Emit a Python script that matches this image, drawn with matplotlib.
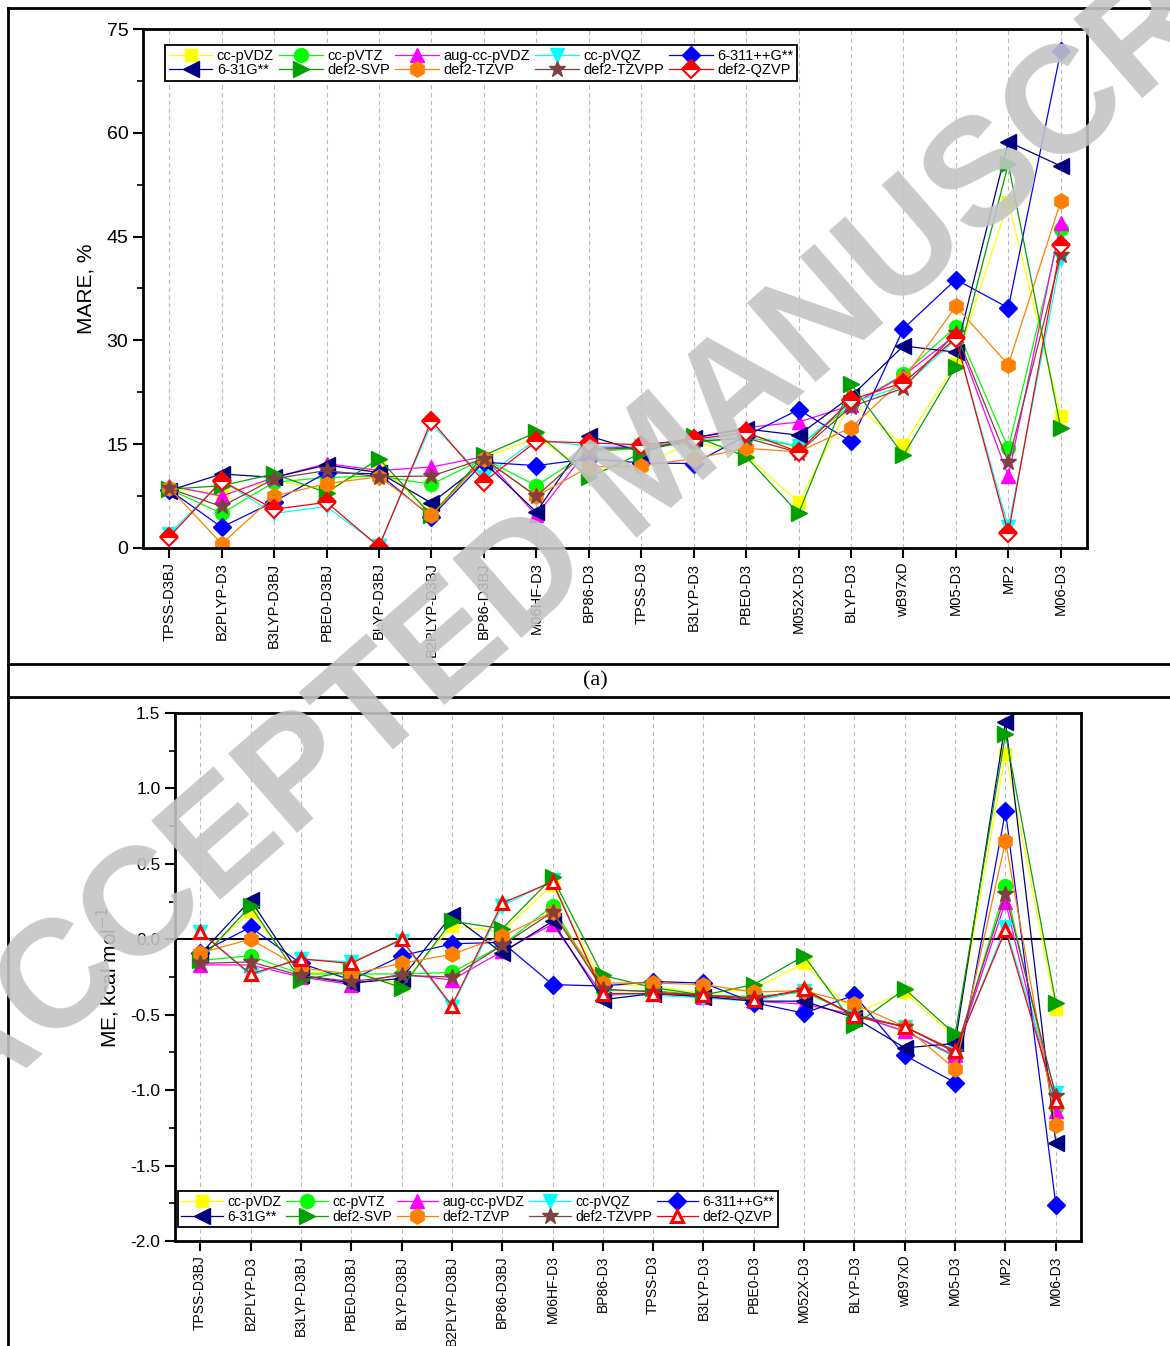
import matplotlib.pyplot as plt
from matplotlib.lines import Line2D

plt.rcParams['font.family'] = ['Liberation Sans', 'DejaVu Sans']

# Functionals (x axis)
functionals = ['TPSS-D3BJ', 'B2PLYP-D3', 'B3LYP-D3BJ', 'PBE0-D3BJ', 'BLYP-D3BJ', 'B2PLYP-D3BJ',
               'BP86-D3BJ', 'M06HF-D3', 'BP86-D3', 'TPSS-D3', 'B3LYP-D3', 'PBE0-D3',
               'M052X-D3', 'BLYP-D3', 'wB97xD', 'M05-D3', 'MP2', 'M06-D3']

basis_sets = ['cc-pVDZ', 'cc-pVTZ', 'aug-cc-pVDZ', 'cc-pVQZ', '6-311++G**',
              '6-31G**', 'def2-SVP', 'def2-TZVP', 'def2-TZVPP', 'def2-QZVP']

# (a) MARE, %
mare_ccpvdz = [8.5, 8.0, 9.7, 8.5, 12.0, 5.0, 13.0, 15.9, 11.2, 11.9, 15.4, 13.4, 6.6, 21.1, 14.9, 26.7, 50.0, 19.1]
mare_ccpvtz = [8.5, 5.0, 9.5, 10.2, 10.4, 9.2, 12.9, 9.0, 13.9, 14.4, 15.2, 16.0, 14.7, 20.6, 25.1, 32.0, 14.4, 46.1]
mare_augdz = [9.0, 7.5, 10.2, 12.2, 11.2, 11.7, 13.2, 4.7, 14.4, 14.6, 15.9, 17.4, 18.2, 20.6, 24.9, 30.8, 10.4, 47.0]
mare_ccpvqz = [2.0, 9.7, 5.0, 6.0, 0.3, 17.9, 10.2, 15.7, 14.7, 14.7, 15.5, 16.4, 14.7, 21.0, 23.4, 30.1, 3.0, 41.8]
mare_6311 = [8.4, 3.0, 6.7, 10.9, 10.7, 4.5, 12.4, 11.9, 12.9, 12.3, 12.2, 16.2, 20.0, 15.4, 31.7, 38.8, 34.7, 71.8]
mare_631 = [8.3, 10.7, 10.2, 12.0, 10.9, 6.5, 12.4, 5.2, 16.2, 13.9, 15.9, 17.2, 16.3, 21.9, 29.2, 28.3, 58.7, 55.2]
mare_svp = [8.5, 9.0, 10.7, 8.0, 12.9, 4.7, 13.4, 16.7, 10.2, 13.7, 16.2, 13.2, 5.0, 23.7, 13.4, 26.2, 55.5, 17.3]
mare_tzvp = [8.7, 0.6, 7.5, 9.3, 10.3, 4.7, 12.9, 7.5, 11.7, 11.9, 12.9, 14.4, 13.9, 17.4, 24.4, 34.9, 26.5, 50.1]
mare_tzvpp = [8.6, 6.0, 10.0, 11.2, 10.3, 10.4, 12.9, 7.5, 14.2, 14.5, 15.4, 15.9, 13.8, 20.4, 23.1, 31.1, 12.4, 42.3]
mare_qzvp = [1.6, 9.7, 5.6, 6.6, 0.2, 18.4, 9.6, 15.4, 15.2, 14.9, 15.7, 16.7, 13.9, 21.4, 23.9, 30.3, 2.1, 43.8]

# (b) ME, kcal/mol
me_ccpvdz = [-0.11, 0.18, -0.22, -0.22, -0.30, 0.09, 0.05, 0.36, -0.30, -0.31, -0.36, -0.33, -0.16, -0.49, -0.35, -0.65, 1.23, -0.46]
me_ccpvtz = [-0.14, -0.11, -0.23, -0.23, -0.23, -0.22, -0.04, 0.22, -0.34, -0.34, -0.37, -0.38, -0.35, -0.50, -0.61, -0.78, 0.35, -1.11]
me_augdz = [-0.17, -0.17, -0.25, -0.30, -0.23, -0.27, -0.08, 0.10, -0.37, -0.36, -0.38, -0.41, -0.43, -0.50, -0.61, -0.77, 0.25, -1.14]
me_ccpvqz = [0.05, -0.24, -0.13, -0.15, -0.01, -0.45, 0.22, 0.39, -0.36, -0.37, -0.39, -0.41, -0.34, -0.50, -0.58, -0.74, 0.08, -1.02]
me_6311 = [-0.09, 0.08, -0.16, -0.27, -0.11, -0.03, -0.02, -0.30, -0.31, -0.28, -0.29, -0.42, -0.49, -0.37, -0.77, -0.95, 0.85, -1.76]
me_631 = [-0.10, 0.26, -0.24, -0.29, -0.26, 0.16, -0.09, 0.12, -0.40, -0.36, -0.38, -0.41, -0.41, -0.52, -0.72, -0.69, 1.44, -1.35]
me_svp = [-0.14, 0.22, -0.27, -0.21, -0.32, 0.12, 0.07, 0.41, -0.24, -0.32, -0.37, -0.30, -0.11, -0.57, -0.33, -0.63, 1.36, -0.42]
me_tzvp = [-0.09, 0.00, -0.19, -0.23, -0.16, -0.10, 0.02, 0.18, -0.29, -0.29, -0.30, -0.35, -0.34, -0.43, -0.58, -0.86, 0.65, -1.23]
me_tzvpp = [-0.16, -0.15, -0.24, -0.28, -0.24, -0.25, -0.04, 0.18, -0.33, -0.35, -0.37, -0.39, -0.34, -0.50, -0.58, -0.75, 0.30, -1.04]
me_qzvp = [0.05, -0.23, -0.13, -0.16, 0.00, -0.44, 0.24, 0.38, -0.36, -0.36, -0.37, -0.40, -0.33, -0.51, -0.58, -0.74, 0.06, -1.07]

mare_data = [mare_ccpvdz, mare_ccpvtz, mare_augdz, mare_ccpvqz, mare_6311,
             mare_631, mare_svp, mare_tzvp, mare_tzvpp, mare_qzvp]
me_data = [me_ccpvdz, me_ccpvtz, me_augdz, me_ccpvqz, me_6311,
           me_631, me_svp, me_tzvp, me_tzvpp, me_qzvp]

colors = ['#FFFF00', '#00FF00', '#FF00FF', '#00FFFF', '#0000FF',
          '#000080', '#00A000', '#FF8000', '#804040', '#FF0000']
markers = ['s', 'o', '^', 'v', 'D', '<', '>', 'h', '*', 'D']
sizes = [9, 10, 10, 10, 9, 11, 11, 11, 12, 9]

x = list(range(len(functionals)))
W, H = 1170, 1346
fig = plt.figure(figsize=(W / 100, H / 100), dpi=100)


def setup_axes(ax, xfs):
    ax.set_xlim(-0.5, len(functionals) - 0.5)
    ax.set_xticks(x)
    ax.set_xticklabels(functionals, rotation=90, fontsize=xfs)
    for xi in x:
        ax.axvline(xi, color='#bbbbbb', lw=0.8, ls=(0, (4, 3)), zorder=0)
    for s in ax.spines.values():
        s.set_linewidth(2)
    ax.tick_params(axis='both', which='major', direction='out', length=7, width=1.5)
    ax.tick_params(axis='y', which='minor', direction='out', length=4, width=1.2)


def ordered_legend(ax, handles, fs, **kw):
    # 5 columns, filled row by row like the original
    order = [0, 5, 1, 6, 2, 7, 3, 8, 4, 9]
    lg = ax.legend([handles[i] for i in order], [basis_sets[i] for i in order],
                   ncol=5, fontsize=fs, handlelength=3.0, handletextpad=0.3,
                   columnspacing=0.35, labelspacing=0.05, borderpad=0.25,
                   borderaxespad=0, fancybox=False, framealpha=1,
                   bbox_transform=fig.transFigure, **kw)
    lg.get_frame().set_edgecolor('black')
    lg.get_frame().set_linewidth(1.3)


# ---- panel (a) ----
ax1 = fig.add_axes([143 / W, 1 - 548 / H, 944 / W, 519 / H])
setup_axes(ax1, 10.5)
h1 = []
for i in range(len(basis_sets)):
    if i == 9:
        kw = dict(mfc='red', mfcalt='white', fillstyle='top', mec='red', mew=1.5)
    else:
        kw = dict(mfc=colors[i], mec=colors[i])
    line, = ax1.plot(x, mare_data[i], color=colors[i], lw=0.9, marker=markers[i],
                     ms=sizes[i], **kw)
    h1.append(line)
ax1.set_ylim(0, 75)
ax1.set_yticks([0, 15, 30, 45, 60, 75])
ax1.set_yticks([7.5, 22.5, 37.5, 52.5, 67.5], minor=True)
ax1.tick_params(axis='y', labelsize=14)
ax1.set_ylabel('MARE, %', fontsize=15, labelpad=8)
ordered_legend(ax1, h1, 10.5, loc='upper left', bbox_to_anchor=(165 / W, 1 - 45 / H))

# ---- panel (b) ----
ax2 = fig.add_axes([175 / W, 1 - 1241 / H, 906 / W, 528 / H])
setup_axes(ax2, 10)
ax2.axhline(0, color='black', lw=1.5, zorder=1)
h2 = []
for i in range(len(basis_sets)):
    mk = markers[i]
    if i == 9:
        mk = '^'
        kw = dict(mfc='white', mec='red', mew=2.2)
    else:
        kw = dict(mfc=colors[i], mec=colors[i])
    line, = ax2.plot(x, me_data[i], color=colors[i], lw=0.9, marker=mk,
                     ms=sizes[i], **kw)
    h2.append(line)
ax2.set_ylim(-2.0, 1.5)
ax2.set_yticks([-2.0, -1.5, -1.0, -0.5, 0.0, 0.5, 1.0, 1.5])
ax2.set_yticks([-1.75, -1.25, -0.75, -0.25, 0.25, 0.75, 1.25], minor=True)
ax2.set_yticklabels(['-2.0', '-1.5', '-1.0', '-0.5', '0.0', '0.5', '1.0', '1.5'])
ax2.tick_params(axis='y', labelsize=12.5)
ax2.set_ylabel('ME, kcal mol$^{-1}$', fontsize=15, labelpad=6)
ordered_legend(ax2, h2, 10, loc='lower left', bbox_to_anchor=(178 / W, 1 - 1227 / H))

# table-like frame around the figure
frame_kw = dict(color='black', lw=2, transform=fig.transFigure)
fig.add_artist(Line2D([8 / W, 1], [1 - 8 / H, 1 - 8 / H], **frame_kw))
fig.add_artist(Line2D([8 / W, 8 / W], [0, 1 - 8 / H], **frame_kw))
fig.add_artist(Line2D([8 / W, 1], [1 - 664 / H, 1 - 664 / H], **frame_kw))
fig.add_artist(Line2D([8 / W, 1], [1 - 697 / H, 1 - 697 / H], **frame_kw))
fig.text(595 / W, 1 - 681 / H, '(a)', ha='center', va='center', fontsize=16,
         family='Liberation Serif')

# watermark
fig.text(655 / W, 1 - 470 / H, 'ACCEPTED MANUSCRIPT', ha='center', va='center',
         rotation=41, fontsize=110, fontweight='bold', color='#c4c4c4', alpha=0.9,
         zorder=10)

plt.savefig('out.png', dpi=100)
